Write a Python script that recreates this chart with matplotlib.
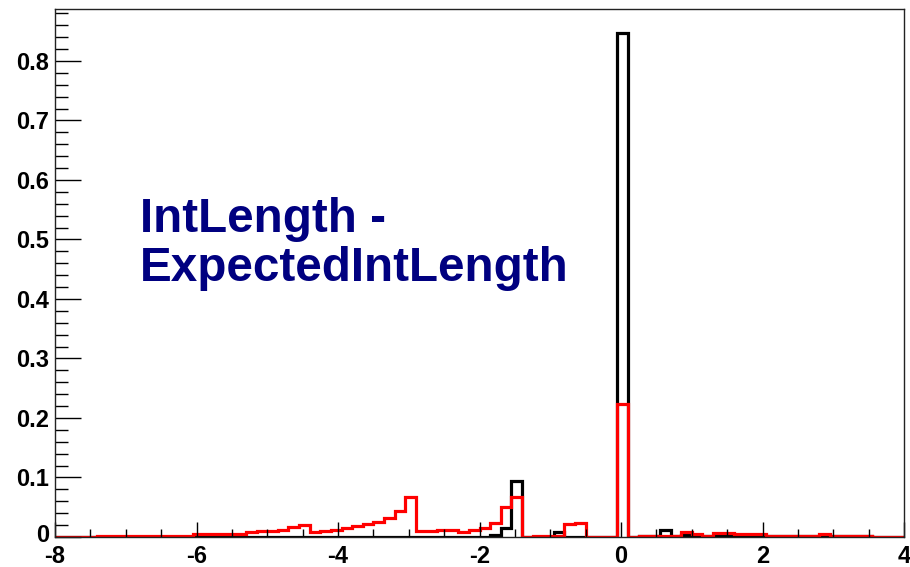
import numpy as np
import matplotlib
matplotlib.use("Agg")
import matplotlib.pyplot as plt
import matplotlib.transforms as mtransforms
from matplotlib.ticker import MultipleLocator

# =====================================================
# DATA (80 bins of width 0.15 from -8 to 4)
# =====================================================

x_lo = -8.0
x_hi = 4.0
n_bins = 80

black_counts = (
    [0.0] * 41
    + [0.003, 0.0146, 0.094]
    + [0.0, 0.0, 0.0]
    + [0.009]
    + [0.0] * 5
    + [0.8466]
    + [0.0, 0.001, 0.001, 0.011, 0.001, 0.004]
    + [0.001] * 17
    + [0.0] * 3
)

red_counts = (
    [0.0] * 4
    + [0.002] * 9
    + [0.0045] * 5
    + [0.008, 0.010, 0.010, 0.012, 0.016, 0.021]
    + [0.008, 0.010, 0.012, 0.0146, 0.018, 0.022, 0.026, 0.032, 0.044, 0.068]
    + [0.010, 0.010, 0.0118, 0.0118, 0.009, 0.012, 0.0146, 0.023, 0.050, 0.068]
    + [0.0, 0.002, 0.002, 0.002, 0.022, 0.024]
    + [0.0] * 3
    + [0.2235]
    + [0.0]
    + [0.002] * 4
    + [0.009, 0.005, 0.002, 0.007, 0.007]
    + [0.0045] * 3
    + [0.002] * 5
    + [0.0045]
    + [0.002] * 4
    + [0.0] * 3
)

x_ticks = [-8, -6, -4, -2, 0, 2, 4]
y_ticks = [0, 0.1, 0.2, 0.3, 0.4, 0.5, 0.6, 0.7, 0.8]
y_tick_labels = ["0", "0.1", "0.2", "0.3", "0.4", "0.5", "0.6", "0.7", "0.8"]

edges = np.linspace(x_lo, x_hi, n_bins + 1)

# =====================================================
# PLOT
# =====================================================

plt.rcParams["font.family"] = ["Liberation Sans", "DejaVu Sans"]

fig = plt.figure(figsize=(9.1, 5.67), dpi=100)
ax = fig.add_axes([55 / 910, 1 - 537 / 567, (904 - 55) / 910, (537 - 9) / 567])

ax.stairs(black_counts, edges, color="black", linewidth=2.3)
ax.stairs(red_counts, edges, color="red", linewidth=2.3)

ax.set_xlim(x_lo, x_hi)
ax.set_ylim(0, 0.8466 * 1.048)

ax.set_xticks(x_ticks)
ax.set_xticklabels([str(t) for t in x_ticks])
ax.xaxis.set_minor_locator(MultipleLocator(0.5))

ax.set_yticks(y_ticks)
ax.set_yticklabels(y_tick_labels)
ax.yaxis.set_minor_locator(MultipleLocator(0.02))

ax.tick_params(axis="x", which="major", direction="in", length=11,
               width=1, pad=6, labelsize=17)
ax.tick_params(axis="x", which="minor", direction="in", length=5.5, width=1)
ax.tick_params(axis="y", which="major", direction="in", length=19,
               width=1, pad=4, labelsize=17)
ax.tick_params(axis="y", which="minor", direction="in", length=9.5, width=1)

for lab in ax.get_xticklabels() + ax.get_yticklabels():
    lab.set_fontweight("bold")

# nudge the "0" on y up a little so it clears the "-8" below it
zero_label = ax.get_yticklabels()[0]
zero_label.set_transform(
    zero_label.get_transform()
    + mtransforms.ScaledTranslation(0, 3 / 72, fig.dpi_scale_trans)
)

for spine in ax.spines.values():
    spine.set_linewidth(1.0)
    spine.set_color("#222222")

fig.text(140 / 910, 1 - 232 / 567, "IntLength -", color="#000080",
         fontsize=34.3, fontweight="bold", va="baseline", ha="left")
fig.text(140 / 910, 1 - 281 / 567, "ExpectedIntLength", color="#000080",
         fontsize=34.3, fontweight="bold", va="baseline", ha="left")

plt.savefig("out.png", dpi=100)
